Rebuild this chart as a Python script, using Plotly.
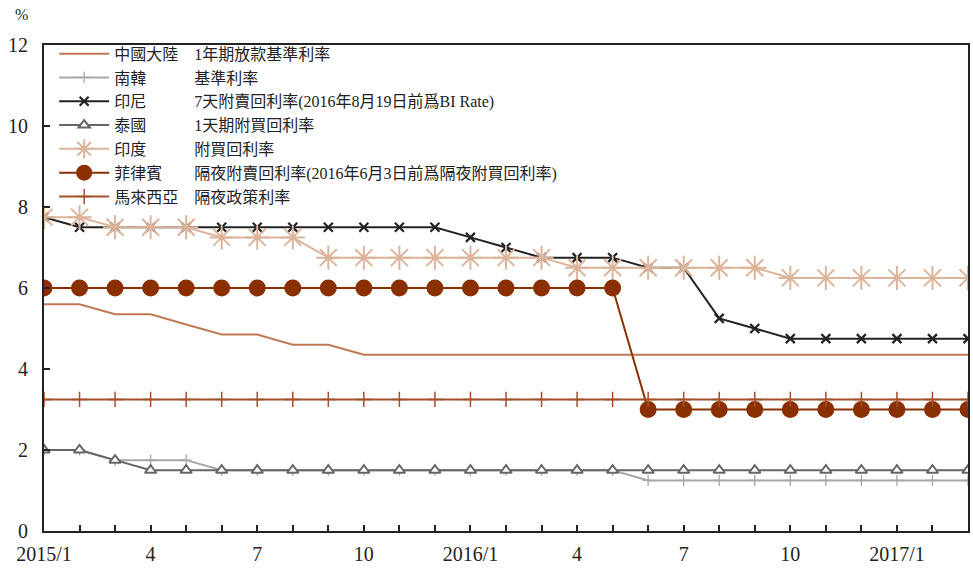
import plotly.graph_objects as go

# Monthly policy rates, 2015/1 .. 2017/3 (end-of-month, %)
months = [f"{y}/{m}" for y in (2015, 2016, 2017) for m in range(1, 13)][:27]
tick_labels = ["2015/1", "4", "7", "10", "2016/1", "4", "7", "10", "2017/1"]

china = [5.6, 5.6, 5.35, 5.35, 5.1, 4.85, 4.85, 4.6, 4.6, 4.35, 4.35, 4.35,
         4.35, 4.35, 4.35, 4.35, 4.35, 4.35, 4.35, 4.35, 4.35, 4.35, 4.35, 4.35,
         4.35, 4.35, 4.35]
korea = [2.0, 2.0, 1.75, 1.75, 1.75, 1.5, 1.5, 1.5, 1.5, 1.5, 1.5, 1.5,
         1.5, 1.5, 1.5, 1.5, 1.5, 1.25, 1.25, 1.25, 1.25, 1.25, 1.25, 1.25,
         1.25, 1.25, 1.25]
indonesia = [7.75, 7.5, 7.5, 7.5, 7.5, 7.5, 7.5, 7.5, 7.5, 7.5, 7.5, 7.5,
             7.25, 7.0, 6.75, 6.75, 6.75, 6.5, 6.5, 5.25, 5.0, 4.75, 4.75, 4.75,
             4.75, 4.75, 4.75]
thailand = [2.0, 2.0, 1.75, 1.5, 1.5, 1.5, 1.5, 1.5, 1.5, 1.5, 1.5, 1.5,
            1.5, 1.5, 1.5, 1.5, 1.5, 1.5, 1.5, 1.5, 1.5, 1.5, 1.5, 1.5,
            1.5, 1.5, 1.5]
india = [7.75, 7.75, 7.5, 7.5, 7.5, 7.25, 7.25, 7.25, 6.75, 6.75, 6.75, 6.75,
         6.75, 6.75, 6.75, 6.5, 6.5, 6.5, 6.5, 6.5, 6.5, 6.25, 6.25, 6.25,
         6.25, 6.25, 6.25]
philippines = [6.0, 6.0, 6.0, 6.0, 6.0, 6.0, 6.0, 6.0, 6.0, 6.0, 6.0, 6.0,
               6.0, 6.0, 6.0, 6.0, 6.0, 3.0, 3.0, 3.0, 3.0, 3.0, 3.0, 3.0,
               3.0, 3.0, 3.0]
malaysia = [3.25] * 27

names = ["中國大陸", "南韓", "印尼", "泰國", "印度", "菲律賓", "馬來西亞"]
descs = ["1年期放款基準利率", "基準利率", "7天附賣回利率(2016年8月19日前爲BI Rate)",
         "1天期附買回利率", "附買回利率", "隔夜附賣回利率(2016年6月3日前爲隔夜附買回利率)",
         "隔夜政策利率"]

x = list(range(len(months)))
FONT = "Liberation Serif, Noto Sans CJK TC, serif"


def label(name, desc):
    # pad the country name with ideographic spaces so descriptions line up
    return name + "\u3000" * (5 - len(name)) + desc


series = [
    (china, "#bf7a55", dict(symbol="circle", size=1, opacity=0)),
    (korea, "#a6a6a6", dict(symbol="cross-thin", size=8, line=dict(width=1.3, color="#a6a6a6"))),
    (indonesia, "#222222", dict(symbol="x-thin", size=9, line=dict(width=2.2, color="#222222"))),
    (thailand, "#666666", dict(symbol="triangle-up", size=10, color="white",
                               line=dict(width=2, color="#666666"))),
    (india, "#dcb49a", dict(symbol="asterisk", size=20, line=dict(width=2, color="#dcb49a"))),
    (philippines, "#8a3000", dict(symbol="circle", size=17, color="#8a3000",
                                  line=dict(width=0))),
    (malaysia, "#a5502c", dict(symbol="cross-thin", size=11, line=dict(width=1.5, color="#a5502c"))),
]

fig = go.Figure()
for (vals, color, marker), name, desc in zip(series, names, descs):
    mode = "lines" if name == "中國大陸" else "lines+markers"
    m = dict(marker)
    m.setdefault("color", color)
    fig.add_trace(go.Scatter(
        x=x, y=vals, name=label(name, desc), mode=mode,
        line=dict(color=color, width=2), marker=m if mode != "lines" else None,
    ))

fig.update_layout(
    width=973, height=569,
    margin=dict(l=44, r=3, t=45, b=38),
    paper_bgcolor="white", plot_bgcolor="white",
    font=dict(family=FONT, size=16, color="#222222"),
    showlegend=True,
    legend=dict(x=0.011, y=1.017, xanchor="left", yanchor="top",
                bgcolor="rgba(0,0,0,0)", itemwidth=50, tracegroupgap=0,
                font=dict(family=FONT, size=16, color="#222222")),
    xaxis=dict(
        range=[0, 26], tickmode="array",
        tickvals=list(range(0, 27, 3)), ticktext=tick_labels,
        ticks="inside", ticklen=6, tickwidth=1.5, tickcolor="#222222",
        ticklabelstandoff=4,
        minor=dict(tickmode="linear", tick0=0, dtick=1, ticks="inside",
                   ticklen=6, tickwidth=1.5, tickcolor="#222222"),
        showline=True, linecolor="#222222", linewidth=2, mirror=True,
        showgrid=False, zeroline=False,
        tickfont=dict(family=FONT, size=20, color="#222222"),
    ),
    yaxis=dict(
        range=[0, 12], tickmode="linear", tick0=0, dtick=2,
        ticks="inside", ticklen=6, tickwidth=1.5, tickcolor="#222222",
        ticklabelstandoff=10,
        showline=True, linecolor="#222222", linewidth=2, mirror=True,
        showgrid=False, zeroline=False,
        tickfont=dict(family=FONT, size=20, color="#222222"),
    ),
    annotations=[dict(text="%", xref="paper", yref="paper", x=-0.024, y=1.062,
                      xanchor="center", yanchor="middle", showarrow=False,
                      font=dict(family=FONT, size=16, color="#222222"))],
)

fig.write_html("out.html")
